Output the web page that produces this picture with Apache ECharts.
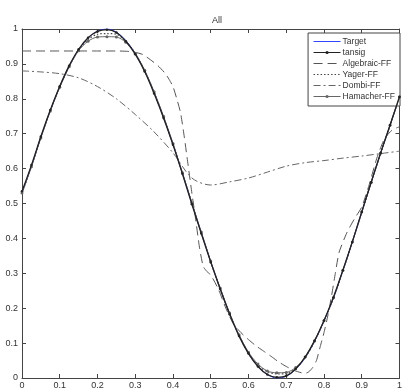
<!DOCTYPE html>
<html>
<head>
<meta charset="utf-8">
<script src="https://cdn.jsdelivr.net/npm/echarts@6/dist/echarts.min.js"></script>
<style>html,body{margin:0;padding:0;background:#fff;}#c{width:405px;height:390px;}</style>
</head>
<body>
<div id="c"></div>
<script>
var xs = [0,0.025,0.05,0.075,0.1,0.125,0.15,0.175,0.2,0.225,0.25,0.275,0.3,0.325,0.35,0.375,0.4,0.425,0.45,0.475,0.5,0.525,0.55,0.575,0.6,0.625,0.65,0.675,0.7,0.725,0.75,0.775,0.8,0.825,0.85,0.875,0.9,0.925,0.95,0.975,1];
var target = [0.53,0.607,0.69,0.766,0.834,0.893,0.94,0.974,0.994,1.0,0.991,0.967,0.93,0.88,0.818,0.747,0.67,0.587,0.50,0.416,0.333,0.256,0.184,0.122,0.071,0.034,0.01,0.0,0.005,0.025,0.058,0.105,0.163,0.229,0.307,0.389,0.475,0.56,0.644,0.724,0.805];
var tansig = [0.535,0.61,0.692,0.768,0.836,0.895,0.942,0.975,0.993,0.998,0.99,0.965,0.928,0.878,0.815,0.745,0.668,0.585,0.498,0.414,0.332,0.255,0.183,0.12,0.07,0.033,0.01,0.002,0.006,0.026,0.06,0.107,0.165,0.231,0.309,0.39,0.476,0.561,0.645,0.725,0.806];
var yager = [0.53,0.606,0.689,0.766,0.834,0.893,0.94,0.97,0.985,0.987,0.985,0.965,0.93,0.88,0.818,0.747,0.67,0.587,0.5,0.416,0.333,0.256,0.184,0.122,0.071,0.036,0.018,0.012,0.012,0.028,0.058,0.105,0.163,0.229,0.307,0.389,0.475,0.56,0.644,0.724,0.805];
var hamacher = [0.53,0.605,0.688,0.765,0.833,0.892,0.938,0.965,0.977,0.978,0.977,0.962,0.93,0.882,0.82,0.75,0.672,0.588,0.502,0.418,0.335,0.258,0.186,0.124,0.074,0.04,0.02,0.015,0.016,0.03,0.06,0.106,0.164,0.23,0.308,0.39,0.476,0.56,0.644,0.724,0.805];
var xsDombi = [0,0.05,0.1,0.15,0.2,0.25,0.3,0.35,0.4,0.45,0.5,0.55,0.6,0.65,0.7,0.75,0.8,0.85,0.9,0.95,1];
var dombi = [0.88,0.877,0.872,0.86,0.835,0.80,0.755,0.705,0.645,0.573,0.553,0.562,0.573,0.59,0.607,0.617,0.623,0.63,0.636,0.643,0.65];
var xsAlg = [0,0.05,0.1,0.15,0.2,0.25,0.28,0.3,0.32,0.34,0.36,0.38,0.39,0.4,0.41,0.42,0.43,0.44,0.45,0.46,0.47,0.48,0.49,0.5,0.52,0.54,0.56,0.58,0.6,0.62,0.64,0.66,0.68,0.7,0.72,0.74,0.75,0.76,0.77,0.78,0.79,0.8,0.81,0.82,0.83,0.84,0.86,0.88,0.9,0.92,0.94,0.96,0.98,1];
var algebraic = [0.937,0.937,0.937,0.937,0.937,0.937,0.936,0.933,0.927,0.912,0.895,0.872,0.855,0.835,0.80,0.76,0.69,0.61,0.53,0.455,0.375,0.32,0.305,0.295,0.255,0.20,0.155,0.13,0.11,0.092,0.077,0.062,0.046,0.033,0.022,0.015,0.013,0.018,0.03,0.05,0.09,0.13,0.178,0.235,0.30,0.36,0.415,0.455,0.49,0.555,0.63,0.685,0.71,0.72];
var xTicks = [0,0.1,0.2,0.3,0.4,0.5,0.6,0.7,0.8,0.9,1];
var names = ['Target','tansig','Algebraic-FF','Yager-FF','Dombi-FF','Hamacher-FF'];
var withMarker = {'tansig':true, 'Hamacher-FF':true};
var legendColors = {'Target':'#3344ff','tansig':'#222','Algebraic-FF':'#555','Yager-FF':'#444','Dombi-FF':'#666','Hamacher-FF':'#666'};

function pairs(x, y){ return x.map(function(v,i){ return [v, y[i]]; }); }

var font = 'Liberation Sans, Arial, sans-serif';
var axisCol = '#444';
function fmt(v){ return String(Math.round(v*10)/10); }
function baseX(pos, show){
  return {type:'value', min:0, max:1, interval:0.1, position:pos,
    axisLine:{show:true, onZero:false, lineStyle:{color:axisCol, width:1}},
    axisTick:{show:true, inside:true, length:4, lineStyle:{color:axisCol}},
    axisLabel:{show:show, fontSize:9, color:'#333', fontFamily:font, margin:3, formatter:fmt},
    splitLine:{show:false}};
}
function baseY(pos, show){
  return {type:'value', min:0, max:1, interval:0.1, position:pos,
    axisLine:{show:true, onZero:false, lineStyle:{color:axisCol, width:1}},
    axisTick:{show:true, inside:true, length:4, lineStyle:{color:axisCol}},
    axisLabel:{show:show, fontSize:9, color:'#333', fontFamily:font, margin:4, formatter:fmt},
    splitLine:{show:false}};
}

var legendData = names.map(function(n){
  var item = {name:n, lineStyle:{color:legendColors[n], width:1}};
  if (!withMarker[n]) item.itemStyle = {opacity:0};
  return item;
});

var chart = echarts.init(document.getElementById('c'), null, {renderer:'canvas'});
chart.setOption({
  animation:false,
  backgroundColor:'#fff',
  title:{text:'All', left:212, top:11, textAlign:'center',
    textStyle:{fontSize:9, fontWeight:'normal', color:'#333', fontFamily:font}},
  grid:{left:22, right:3, top:29, bottom:11, containLabel:false},
  xAxis:[baseX('bottom', true), baseX('top', false)],
  yAxis:[baseY('left', true), baseY('right', false)],
  legend:{data:legendData, orient:'vertical', right:5, top:33, itemWidth:27, itemHeight:4, itemGap:2,
    padding:[4,5,5,5], backgroundColor:'#fff', borderColor:'#444', borderWidth:1,
    textStyle:{fontSize:8.5, color:'#333', fontFamily:font, padding:[0,0,0,-3]}},
  series:[
    {name:'Target', type:'line', data:pairs(xs,target), smooth:0.3, symbol:'none',
      lineStyle:{color:'#3344ff', width:1}, itemStyle:{color:'#3344ff'}, z:1},
    {name:'Algebraic-FF', type:'line', data:pairs(xsAlg,algebraic), smooth:0.2, symbol:'none',
      lineStyle:{color:'#555', width:1, type:[9,5]}, itemStyle:{color:'#555'}, z:2},
    {name:'Yager-FF', type:'line', data:pairs(xs,yager), smooth:0.3, symbol:'none',
      lineStyle:{color:'#444', width:1.2, type:[1.5,2]}, itemStyle:{color:'#444'}, z:3},
    {name:'Dombi-FF', type:'line', data:pairs(xsDombi,dombi), smooth:0.3, symbol:'none',
      lineStyle:{color:'#666', width:1, type:[7,3,2,3]}, itemStyle:{color:'#666'}, z:4},
    {name:'Hamacher-FF', type:'line', data:pairs(xs,hamacher), smooth:0.3, symbol:'circle', symbolSize:3,
      lineStyle:{color:'#666', width:1}, itemStyle:{color:'#666'}, z:5},
    {name:'tansig', type:'line', data:pairs(xs,tansig), smooth:0.3, symbol:'circle', symbolSize:2.5,
      lineStyle:{color:'#222', width:1.3}, itemStyle:{color:'#222'}, z:6}
  ]
});
</script>
</body>
</html>
